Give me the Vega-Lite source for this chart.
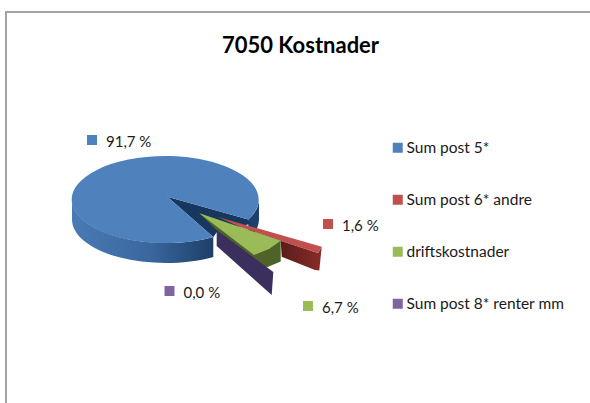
{
"$schema":"https://vega.github.io/schema/vega-lite/v6.json",
"width":586,"height":393,
"autosize":"none",
"padding":{"left":6,"top":12,"right":0,"bottom":0},
"background":"white",
"config":{"view":{"stroke":"#a3a3a3","strokeWidth":2},"font":"Lato"},
"title":{"text":"7050 Kostnader","font":"Lato","fontSize":22,"fontWeight":"bold","color":"#000000","anchor":"middle","baseline":"alphabetic","offset":0,"dx":1.5,"dy":63},
"datasets":{"slices":[
{"name":"Sum post 5*","value":91.7,"label":"91,7 %"},
{"name":"Sum post 6* andre","value":1.6,"label":"1,6 %"},
{"name":"driftskostnader","value":6.7,"label":"6,7 %"},
{"name":"Sum post 8* renter mm","value":0.0,"label":"0,0 %"}
]},
"data":{"name":"slices"},
"layer":[
{"mark":{"type":"point","filled":true,"opacity":1,"shape":"square","size":100},
 "encoding":{
  "x":{"field":"value","type":"quantitative","axis":null,"scale":{"domain":[0,1.6,6.7,91.7],"range":[163.5,322,302,86],"nice":false,"zero":false}},
  "y":{"field":"value","type":"quantitative","axis":null,"scale":{"domain":[0,1.6,6.7,91.7],"range":[279,212,294,128],"nice":false,"zero":false}},
  "color":{"field":"name","type":"nominal",
   "scale":{"domain":["Sum post 5*","Sum post 6* andre","driftskostnader","Sum post 8* renter mm"],"range":["#4f81bd","#c0504d","#9bbb59","#8064a2"]},
   "legend":{"title":null,"orient":"none","legendX":384,"legendY":128,"padding":0,"symbolType":"square","symbolSize":100,"symbolStrokeWidth":0,"labelFont":"Lato","labelFontSize":15.5,"labelColor":"#1a1a1a","labelOffset":1,"rowPadding":35,"labelLimit":200,
    "encode":{"labels":{"dy":{"value":{"expr":"datum.value==='driftskostnader'?-6:0"}}}}}}}},
{"mark":{"type":"text","align":"left","baseline":"middle","dx":14,"dy":2,"font":"Lato","fontSize":15,"color":"#1a1a1a"},
 "encoding":{
  "x":{"field":"value","type":"quantitative","axis":null},
  "y":{"field":"value","type":"quantitative","axis":null},
  "text":{"field":"label","type":"nominal"}}},
{"transform":[{"filter":{"field":"value","equal":91.7}}],
 "mark":{"type":"point","filled":true,"opacity":1,"size":4,"shape":"M-227 -9A93.5 43.5 0 0 0 -85.7 28.4L-85.7 48.4A93.5 43.5 0 0 1 -227 11Z",
 "fill":{"x1":0,"y1":0,"x2":1,"y2":0,"gradient":"linear","stops":[{"offset":0,"color":"#4a7ab4"},{"offset":0.55,"color":"#3a679e"},{"offset":1,"color":"#1d3f68"}]}}},
{"transform":[{"filter":{"field":"value","equal":91.7}}],
 "mark":{"type":"point","filled":true,"opacity":1,"size":4,"fill":"#1d416e","shape":"M-50.7 11A93.5 43.5 0 0 0 -40 -9L-40 11A93.5 43.5 0 0 1 -50.7 31Z"}},
{"transform":[{"filter":{"field":"value","equal":91.7}}],
 "mark":{"type":"point","filled":true,"opacity":1,"size":4,"fill":"#17375e","shape":"M-131.7 -11.8L-50.7 11L-49 15.5L-82 23.5L-85.7 28.4Z"}},
{"transform":[{"filter":{"field":"value","equal":91.7}}],
 "mark":{"type":"point","filled":true,"opacity":1,"size":4,"shape":"M-131.7 -11.8L-50.7 11A93.5 43.5 0 1 0 -85.7 28.4Z"},
 "encoding":{"color":{"field":"name","type":"nominal"}}},
{"transform":[{"filter":{"field":"value","equal":1.6}}],
 "mark":{"type":"point","filled":true,"opacity":1,"size":4,"shape":"M-18.3 32.2L19 44.5L22.7 38.2L20.3 62L16 61.5L-17.3 48.2Z",
 "fill":{"x1":0,"y1":0,"x2":1,"y2":0,"gradient":"linear","stops":[{"offset":0,"color":"#5a1c1a"},{"offset":1,"color":"#8a2c29"}]}}},
{"transform":[{"filter":{"field":"value","equal":1.6}}],
 "mark":{"type":"point","filled":true,"opacity":1,"size":4,"shape":"M-81 8.5L22.7 38.2L19 44.5L-18 32.5L-60 18Z"},
 "encoding":{"color":{"field":"name","type":"nominal"}}},
{"transform":[{"filter":{"field":"value","equal":6.7}}],
 "mark":{"type":"point","filled":true,"opacity":1,"size":4,"fill":"#4f6228","shape":"M-99.7 4.8L-18.3 32.2L-18.3 53L-35 60L-42 65L-80 24Z"}},
{"transform":[{"filter":{"field":"value","equal":6.7}}],
 "mark":{"type":"point","filled":true,"opacity":1,"size":4,"shape":"M-99.7 4.8L-18.3 32.2L-30 40.5L-45 46.5Z"},
 "encoding":{"color":{"field":"name","type":"nominal"}}},
{"transform":[{"filter":{"field":"value","equal":0}}],
 "mark":{"type":"point","filled":true,"opacity":1,"size":4,"fill":"#3b2f5e","shape":"M-82.3 21.5L-25.7 63.5L-27.3 86.5L-82.3 37.5Z"}}
]
}
